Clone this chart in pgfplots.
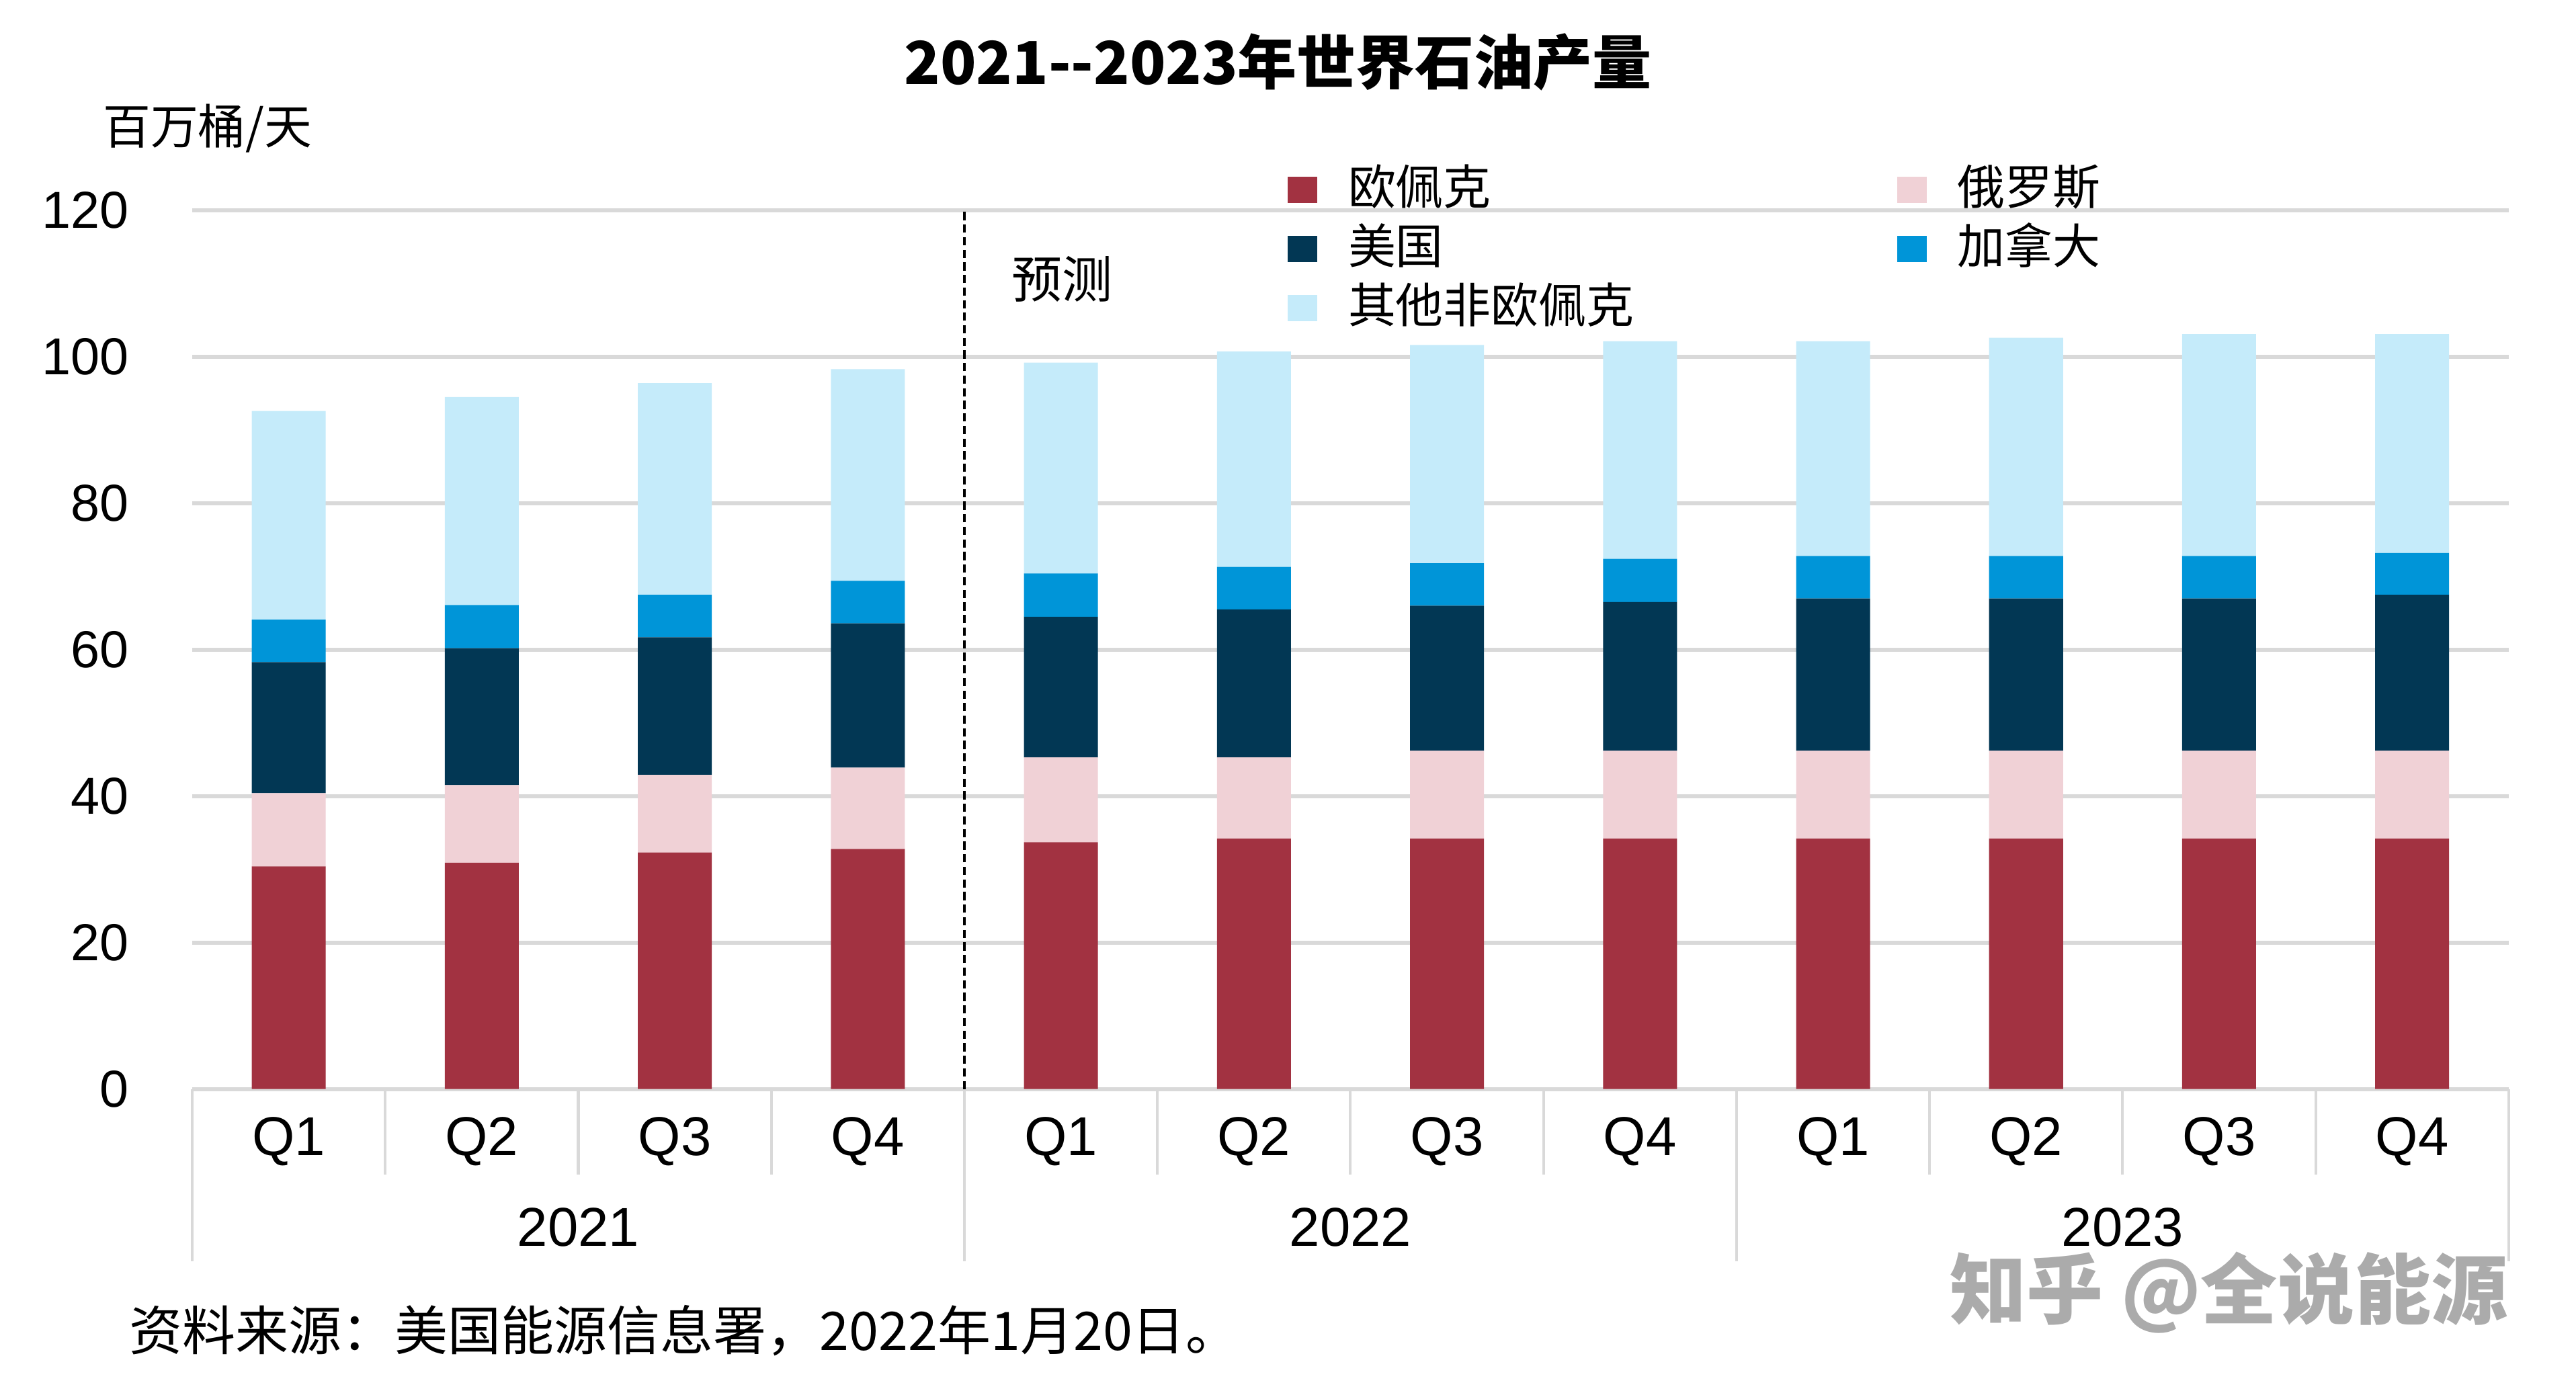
\documentclass[border=0pt]{standalone}
\usepackage{fontspec}
\setmainfont{Liberation Sans}
\newfontfamily\cjk{Noto Sans CJK SC}
\usepackage{pgfplots}
\pgfplotsset{compat=1.18}

\definecolor{opec}{RGB}{162,50,65}
\definecolor{rus}{RGB}{240,209,214}
\definecolor{usa}{RGB}{2,55,84}
\definecolor{can}{RGB}{0,149,216}
\definecolor{oth}{RGB}{197,235,250}
\definecolor{gridc}{RGB}{217,217,217}

\begin{document}
\begin{tikzpicture}
\path[use as bounding box] (0,0) rectangle (470.4pt,254.7pt);
\begin{axis}[
    at={(35.1pt,55.8pt)}, anchor=south west,
    scale only axis, width=423pt, height=160.5pt,
    ybar stacked, bar width=0.383,
    xmin=-0.5, xmax=11.5, ymin=0, ymax=120,
    xtick={0,...,11},
    xticklabels={Q1,Q2,Q3,Q4,Q1,Q2,Q3,Q4,Q1,Q2,Q3,Q4},
    ytick={0,20,...,120},
    ymajorgrids, grid style={gridc, line width=0.7pt},
    axis line style={draw=none}, major tick length=0pt,
    /pgf/number format/assume math mode=true,
    xticklabel style={anchor=center, yshift=-9.6pt, font=\fontsize{10}{12}\selectfont},
    yticklabel style={anchor=east, xshift=-8pt, font=\fontsize{9.5}{11}\selectfont},
    clip=false,
    legend columns=2, legend cell align=left,
    legend image code/.code={\draw[#1,draw=none] (0pt,-2.2pt) rectangle (5.5pt,2.6pt);},
    legend style={draw=none, fill=none, inner sep=0pt, row sep=0.8pt,
        at={(0.4723,1.0542)}, anchor=north west,
        font=\cjk\fontsize{8.7}{10}\selectfont,
        nodes={inner sep=1pt, text height=6.5pt, text depth=1.5pt},
        /tikz/every odd column/.append style={column sep=4.6pt},
        /tikz/every even column/.append style={column sep=47pt}},
]
% 欧佩克
\addplot[fill=opec, draw=none] coordinates {(0,30.4) (1,30.9) (2,32.3) (3,32.8) (4,33.7) (5,34.2) (6,34.2) (7,34.2) (8,34.2) (9,34.2) (10,34.2) (11,34.2)};
% 俄罗斯
\addplot[fill=rus, draw=none] coordinates {(0,10.0) (1,10.6) (2,10.6) (3,11.1) (4,11.6) (5,11.1) (6,12.0) (7,12.0) (8,12.0) (9,12.0) (10,12.0) (11,12.0)};
% 美国
\addplot[fill=usa, draw=none] coordinates {(0,17.9) (1,18.7) (2,18.8) (3,19.7) (4,19.2) (5,20.2) (6,19.8) (7,20.3) (8,20.8) (9,20.8) (10,20.8) (11,21.3)};
% 加拿大
\addplot[fill=can, draw=none] coordinates {(0,5.8) (1,5.9) (2,5.8) (3,5.8) (4,5.9) (5,5.8) (6,5.8) (7,5.9) (8,5.8) (9,5.8) (10,5.8) (11,5.7)};
% 其他非欧佩克
\addplot[fill=oth, draw=none] coordinates {(0,28.5) (1,28.4) (2,28.9) (3,28.9) (4,28.8) (5,29.4) (6,29.8) (7,29.7) (8,29.3) (9,29.8) (10,30.3) (11,29.9)};
\legend{欧佩克,俄罗斯,美国,加拿大,其他非欧佩克}

% forecast divider
\draw[black, line width=0.6pt, dash pattern=on 1.5pt off 0.8pt] (axis cs:3.5,0) -- (axis cs:3.5,120);
% category separators
\pgfplotsinvokeforeach{0.5,1.5,2.5,4.5,5.5,6.5,8.5,9.5,10.5}{
  \draw[gridc, line width=0.5pt] (axis cs:#1,0) -- ++(0pt,-15.6pt);}
\pgfplotsinvokeforeach{-0.5,3.5,7.5,11.5}{
  \draw[gridc, line width=0.5pt] (axis cs:#1,0) -- ++(0pt,-31.5pt);}
\node[font=\fontsize{10}{12}\selectfont] at (axis cs:1.5,0) [yshift=-25.2pt] {2021};
\node[font=\fontsize{10}{12}\selectfont] at (axis cs:5.5,0) [yshift=-25.2pt] {2022};
\node[font=\fontsize{10}{12}\selectfont] at (axis cs:9.5,0) [yshift=-25.2pt] {2023};
\end{axis}

\begin{scope}[x=0.3pt, y=-0.3pt, shift={(0,254.7pt)}]
  \node[font=\cjk\bfseries\fontsize{10.8}{13}\selectfont] at (778,38) {2021-{}-2023年世界石油产量};
  \node[font=\cjk\fontsize{8.7}{10}\selectfont, anchor=west, inner sep=0pt] at (62,78) {百万桶/天};
  \node[font=\cjk\fontsize{9.2}{11}\selectfont, anchor=west, inner sep=0pt] at (615,170) {预测};
  \node[font=\cjk\fontsize{9.7}{11}\selectfont, anchor=west, inner sep=0pt] at (78,810) {资料来源：美国能源信息署，2022年1月20日。};
  \node[font=\cjk\bfseries\fontsize{14}{16}\selectfont, text=black!33, anchor=east, inner sep=0pt] at (1527,787) {知乎 @全说能源};
\end{scope}
\end{tikzpicture}
\end{document}
